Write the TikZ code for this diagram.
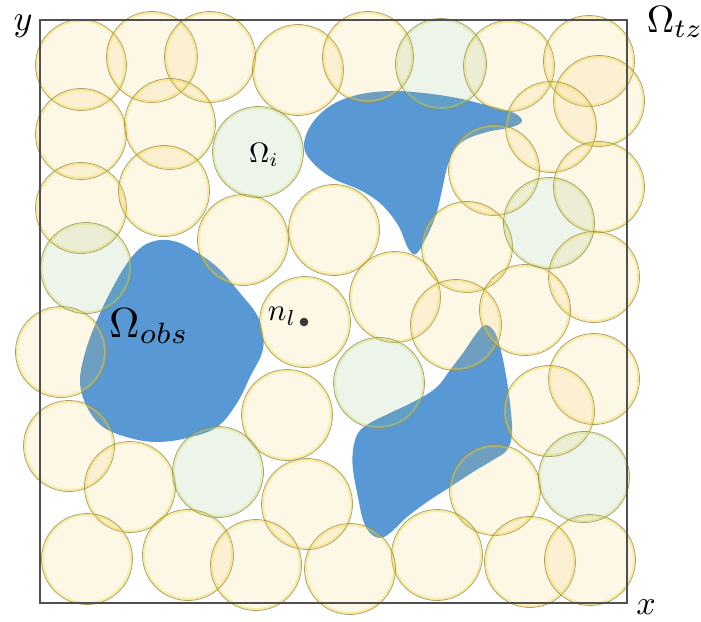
\RequirePackage{fix-cm}
\documentclass[tikz,border=0pt]{standalone}
\definecolor{circfill}{RGB}{240,200,90}
\definecolor{greenfill}{RGB}{150,190,130}
\definecolor{circedge}{RGB}{150,138,80}
\definecolor{circglow}{RGB}{240,215,40}
\definecolor{greenglow}{RGB}{200,225,90}
\definecolor{obsblue}{RGB}{88,152,212}
\definecolor{framegray}{RGB}{80,80,80}
\begin{document}
\begin{tikzpicture}[x=1pt,y=-1pt,
  disc/.style={circle, minimum size=91pt, inner sep=0pt, fill=circfill, fill opacity=0.15, draw=circedge, draw opacity=0.8, line width=0.8pt},
  gdisc/.style={disc, fill=greenfill, fill opacity=0.17},
  glow/.style={circglow, line width=2pt, draw opacity=0.35},
  gglow/.style={greenglow, line width=2pt, draw opacity=0.35},
  obst/.style={fill=obsblue},
  lab/.style={inner sep=0pt, text=black}]
\useasboundingbox (0,0) rectangle (701,621);
% obstacles
\fill[obst] plot[smooth cycle, tension=0.6] coordinates {(304,147) (311,125) (330,106) (357,95) (390,91) (423,93) (457,98) (490,106) (514,113) (522,121) (512,127) (487,132) (465,140) (453,152) (447,168) (442,190) (436,215) (426,238) (416,254) (408,248) (398,225) (381,204) (360,190) (334,179) (314,164)};
\fill[obst] plot[smooth cycle, tension=0.6] coordinates {(160,240) (143,246) (128,262) (113,287) (97,320) (85,353) (80,382) (87,407) (103,427) (130,438) (157,442) (187,438) (217,427) (237,403) (250,377) (262,353) (263,335) (257,315) (240,293) (217,267) (193,250) (177,242)};
\fill[obst] plot[smooth cycle, tension=0.6] coordinates {(485,325) (494,331) (500,347) (505,370) (510,403) (512,433) (507,450) (493,460) (473,472) (450,487) (427,502) (407,517) (390,533) (380,538) (370,533) (363,520) (358,497) (353,470) (353,450) (358,433) (370,423) (390,413) (417,400) (437,387) (450,370) (463,353) (476,334)};
% circles
\foreach \px/\py [count=\i] in {81/65,152/57,210/57,298/70,368/57,81/134,170/124,81/208,164/191,243/240,334/230,305/322,509/66,589/61,599/101,551/127,494/170,599/187,467/247,594/277,395/297,456/325,525/310,594/379,549/411,495/490,437/555,530/562,590/560,350/569,61/352,69/446,130/487,287/415,307/504,87/559,188/555,256/565}
  {\node[disc] (c\i) at (\px,\py) {};
   \draw[glow] (c\i.center) circle (44);}
\foreach \px/\py [count=\i] in {258/152,86/268,441/64,549/223,379/383,584/477,218/472}
  {\node[gdisc] (g\i) at (\px,\py) {};
   \draw[gglow] (g\i.center) circle (44);}
% frame
\draw[framegray, line width=2pt] (40,20) rectangle (627,603);
% labels
\fill[black!78] (304,322) circle (4.3);
\node[lab, scale=3.6] (ly) at (23,26) {$y$};
\node[lab, scale=3.4] (lx) at (646,607) {$x$};
\node[lab, scale=3.8] (ltz) at (675,22) {$\Omega_{tz}$};
\node[lab, scale=2.8] (li) at (264,155) {$\Omega_i$};
\node[lab, scale=3.1] (lnl) at (282,316) {$n_l$};
\node[lab, scale=4.2] (lobs) at (149,326) {$\Omega_{obs}$};
\end{tikzpicture}
\end{document}
